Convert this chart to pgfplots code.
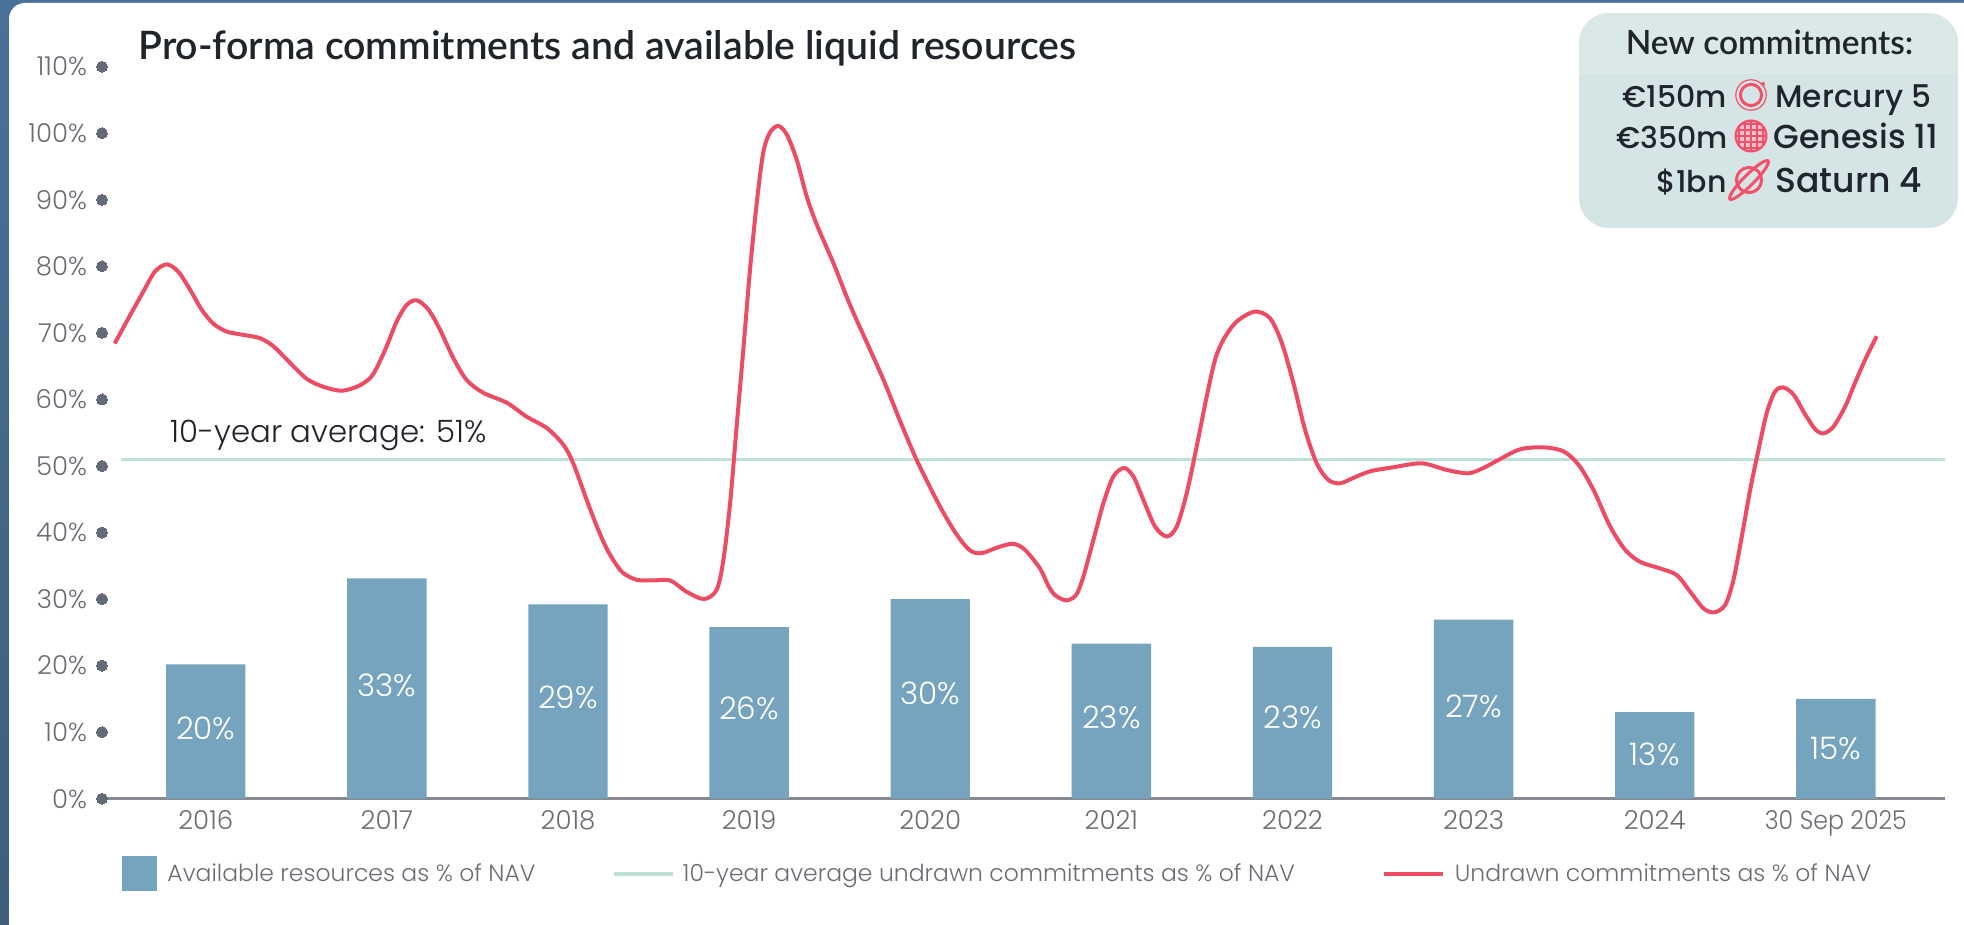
\documentclass[border=0pt]{standalone}
\usepackage{fontspec}
\usepackage{pgfplots}
\usepackage{pgfplotstable}
\pgfplotsset{compat=1.18}
\setmainfont{Poppins Light}
\newfontfamily\titlefont{Lato Semibold}
\newfontfamily\namefont{Poppins Medium}

\definecolor{barblue}{HTML}{76A3BD}
\definecolor{avgline}{HTML}{BDE0D9}
\definecolor{redline}{HTML}{EC4D64}
\definecolor{tickgrey}{HTML}{6A6E74}
\definecolor{dotgrey}{HTML}{646B78}
\definecolor{axisgrey}{HTML}{878A92}
\definecolor{inkdark}{HTML}{20252B}
\definecolor{edgetop}{HTML}{4A7199}
\definecolor{edgebottom}{HTML}{3E5E7C}
\definecolor{boxtop}{HTML}{DBE8E8}
\definecolor{boxbottom}{HTML}{D5E5E5}
\definecolor{iconred}{HTML}{F4506A}

% bars, x is the category index
\pgfplotstableread{
x y
0 20.2
1 33.1
2 29.2
3 25.8
4 30.0
5 23.3
6 22.8
7 26.9
8 13.0
9 15.0
}\resources

% label positions inside the bars
\pgfplotstableread{
x y label
0 10.5 20
1 17.0 33
2 15.3 29
3 13.6 26
4 15.8 30
5 12.2 23
6 12.2 23
7 13.8 27
8 6.6 13
9 7.5 15
}\barlabels

% undrawn commitments
\pgfplotstableread{
x y
-0.503 68.4
-0.419 72.6
-0.345 76.2
-0.281 79.2
-0.216 80.3
-0.152 79.2
-0.087 76.5
-0.023 73.5
0.041 71.4
0.115 70.2
0.207 69.7
0.299 69.2
0.373 68.0
0.465 65.5
0.557 63.1
0.649 61.9
0.750 61.3
0.842 62.0
0.907 63.2
0.943 64.7
0.999 68.0
1.054 71.7
1.109 74.2
1.165 74.9
1.229 73.5
1.293 70.5
1.367 66.2
1.441 62.9
1.532 61.0
1.662 59.5
1.772 57.4
1.883 55.7
1.974 53.2
2.029 50.4
2.103 44.9
2.167 40.4
2.223 37.1
2.297 34.1
2.379 32.9
2.471 32.8
2.563 32.8
2.655 31.1
2.751 30.0
2.821 31.4
2.858 35.9
2.895 44.4
2.931 55.9
2.968 67.5
3.005 79.5
3.042 89.5
3.078 97.1
3.115 100.1
3.161 101.1
3.208 99.8
3.263 96.0
3.318 90.5
3.373 86.3
3.465 80.5
3.557 74.2
3.649 68.6
3.741 63.0
3.833 56.8
3.925 50.9
4.054 43.9
4.146 39.7
4.220 37.3
4.284 36.9
4.376 37.8
4.459 38.3
4.523 37.4
4.606 34.6
4.652 32.0
4.689 30.6
4.750 29.8
4.805 30.6
4.846 33.4
4.901 38.9
4.956 44.4
5.011 48.4
5.070 49.7
5.122 48.4
5.177 44.9
5.241 40.9
5.306 39.4
5.361 40.9
5.416 45.9
5.471 52.9
5.527 60.5
5.573 66.0
5.619 69.0
5.692 71.7
5.793 73.2
5.876 72.2
5.941 68.5
6.005 62.5
6.070 55.4
6.134 50.4
6.198 47.9
6.263 47.4
6.336 48.2
6.429 49.2
6.557 49.8
6.714 50.4
6.852 49.4
6.971 48.9
7.054 49.7
7.137 50.9
7.257 52.5
7.386 52.8
7.496 52.2
7.579 50.2
7.662 46.4
7.754 40.9
7.837 37.4
7.919 35.6
8.030 34.6
8.122 33.6
8.196 31.1
8.269 28.6
8.328 28.0
8.389 29.1
8.435 32.9
8.481 39.4
8.527 46.4
8.573 52.4
8.619 58.0
8.665 61.2
8.711 61.8
8.767 60.7
8.832 57.7
8.887 55.5
8.932 54.9
8.987 55.9
9.051 58.9
9.088 61.3
9.125 63.7
9.171 66.5
9.226 69.5
}\undrawn

\begin{document}
\begin{tikzpicture}
% page background, units are reference pixels
\begin{scope}[x=0.5pt,y=-0.5pt,yshift=462.5pt]
  \fill[top color=edgetop,bottom color=edgebottom] (0,0) rectangle (1964,925);
  \begin{scope}
    \clip (0,0) rectangle (1964,925);
    \fill[white,rounded corners=8pt] (9,3) rectangle (1985,945);
  \end{scope}
\end{scope}

\begin{axis}[
  at={(51pt,63.15pt)}, anchor=south west,
  scale only axis,
  width=921.5pt, height=366pt,
  xmin=-0.573, xmax=9.603,
  ymin=0, ymax=110,
  clip=false,
  axis lines*=left,
  y axis line style={draw=none},
  x axis line style={draw=axisgrey, line width=1.5pt},
  major tick length=0pt,
  xtick={0,...,9},
  xticklabels={2016,2017,2018,2019,2020,2021,2022,2023,2024,\scalebox{0.91}[1]{30 Sep 2025}},
  ytick={0,10,...,110},
  yticklabels={0\%,10\%,20\%,30\%,40\%,50\%,60\%,70\%,80\%,90\%,100\%,110\%},
  tick label style={text=tickgrey, font=\fontsize{13}{15}\selectfont},
  xticklabel style={yshift=-2.5pt},
  yticklabel style={xshift=-4pt},
  legend style={
    at={(0.0109,-0.1025)}, anchor=west,
    draw=none, fill=none, inner sep=0pt,
    legend columns=3,
    font=\fontsize{11.75}{14}\selectfont,
    text=tickgrey,
    /tikz/every even column/.style={column sep=0pt},
  },
  legend cell align=left,
]
  \addplot[ybar, bar width=39.7pt, bar shift=0pt, fill=barblue, draw=none,
    legend image code/.code={\fill[barblue] (0,-8.75pt) rectangle (17.5pt,8.75pt);}]
    table[x=x,y=y] {\resources};
  \addlegendentry{\makebox[223.1pt][l]{\hspace{3pt}Available resources as \% of NAV}}

  \addplot[avgline, line width=1.5pt,
    legend image code/.code={\draw[avgline,line width=2pt] (0,0) -- (29.5pt,0);}]
    coordinates {(-0.47,51) (9.603,51)};
  \addlegendentry{\makebox[349.6pt][l]{\hspace{2pt}10-year average undrawn commitments as \% of NAV}}

  \addplot[redline, line width=2pt, smooth, tension=0.5,
    legend image code/.code={\draw[redline,line width=2pt] (0,0) -- (29.5pt,0);}]
    table[x=x,y=y] {\undrawn};
  \addlegendentry{\hspace{3pt}Undrawn commitments as \% of NAV}

  % dots standing in for y ticks
  \addplot[only marks, color=dotgrey, mark=*, mark size=2.75pt, mark options={fill=dotgrey, draw=dotgrey, line width=0pt}, forget plot]
    coordinates {(-0.573,0) (-0.573,10) (-0.573,20) (-0.573,30) (-0.573,40) (-0.573,50)
      (-0.573,60) (-0.573,70) (-0.573,80) (-0.573,90) (-0.573,100) (-0.573,110)};

  % percent labels on the bars
  \addplot[draw=none, mark=none, forget plot,
    nodes near coords={\pgfplotspointmeta\%},
    point meta=explicit symbolic,
    every node near coord/.append style={anchor=center, text=white, font=\fontsize{15.5}{17}\selectfont}]
    table[x=x,y=y,meta=label] {\barlabels};
\end{axis}

\begin{scope}[x=0.5pt,y=-0.5pt,yshift=462.5pt]
  \node[anchor=base west, inner sep=0pt, text=inkdark, font=\titlefont\fontsize{19.6}{22}\selectfont]
    at (138,60) {Pro-forma commitments and available liquid resources};
  \node[anchor=base west, inner sep=0pt, text=inkdark, font=\fontsize{15.4}{18}\selectfont]
    at (170,443) {10-year average: 51\%};

  % new commitments box
  \begin{scope}
    \clip[rounded corners=15pt] (1579,13) rectangle (1958,228);
    \fill[boxbottom] (1579,13) rectangle (1958,228);
    \fill[boxtop] (1579,13) rectangle (1958,74);
  \end{scope}
  \node[anchor=base, inner sep=0pt, text=inkdark, font=\titlefont\fontsize{16.7}{18}\selectfont]
    at (1769.5,55) {New commitments:};
  \tikzset{amount/.style={anchor=base east, inner sep=0pt, text=inkdark, font=\namefont\fontsize{15}{16}\selectfont},
           fund/.style={anchor=base west, inner sep=0pt, text=inkdark, font=\namefont\fontsize{#1}{18}\selectfont}}
  \node[amount] at (1727,108) {€150m};
  \node[fund=15.6] at (1775,108) {Mercury 5};
  \node[amount] at (1728,149) {€350m};
  \node[fund=16.6] at (1773,149) {Genesis 11};
  \node[amount] at (1727,193) {\$1bn};
  \node[fund=17.3] at (1775,193) {Saturn 4};

  % mercury icon
  \draw[iconred, line width=0.6pt] (1751,95) circle (7.6pt);
  \draw[iconred, line width=1.5pt] (1751,95) circle (5.3pt);
  \fill[iconred] (1763,84) circle (1pt);
  % genesis icon
  \begin{scope}
    \clip (1751,136) circle (8pt);
    \fill[iconred!35!white] (1735,120) rectangle (1767,152);
    \foreach \d in {-12,-6,0,6,12} {
      \draw[iconred, line width=0.7pt] (1751+\d,120) -- (1751+\d,152);
      \draw[iconred, line width=0.7pt] (1735,136+\d) -- (1767,136+\d);
    }
  \end{scope}
  \draw[iconred, line width=1.1pt] (1751,136) circle (7.7pt);
  % saturn icon
  \draw[iconred, line width=1.5pt] (1749,180) circle (6.3pt);
  \draw[iconred, line width=1.5pt, rotate around={45:(1749,180)}] (1749,180) ellipse (13.5pt and 2.6pt);
\end{scope}
\end{tikzpicture}
\end{document}
